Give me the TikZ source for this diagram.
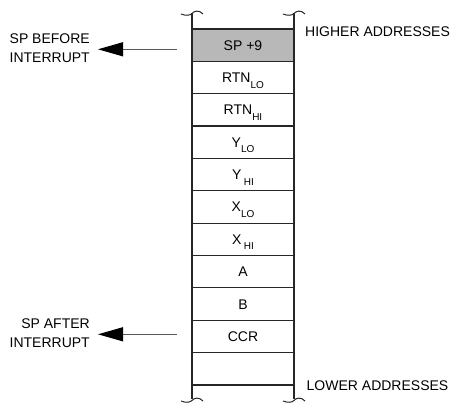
\documentclass[tikz,border=0pt]{standalone}
\usepackage{fontspec}
\setmainfont{Liberation Sans}
\usetikzlibrary{arrows.meta}
\newcommand\lsub[1]{\raisebox{-5.5pt}{\fontsize{10}{10}\selectfont #1}}
\tikzset{
  boxline/.style={draw=black!85, line width=1.2pt},
  cell/.style={boxline, minimum width=102pt, minimum height=32.36pt, inner sep=0pt,
     text height=10pt, text depth=0pt, font=\fontsize{14}{16}\selectfont},
  grayfill/.style={fill=black!28},
  lbl/.style={inner sep=0pt, font=\fontsize{14}{18.7}\selectfont},
  arr/.style={draw=black!65, line width=1.2pt, -{Triangle[length=25pt,width=14pt,color=black]}},
  tilde/.pic={\draw[boxline, line width=1pt] (-11,1) .. controls (-6,3) and (-2,2.5) .. (0,0.5) .. controls (2,-2) and (7,-3.5) .. (11,1);}
}
\begin{document}
\begin{tikzpicture}[x=1pt,y=-1pt]
\useasboundingbox (0,0) rectangle (453,404);
% cells
\node[cell,grayfill] (c0) at (243,{29+0.5*32.36}) {SP +9};
\node[cell] (c1) at (243,{29+1.5*32.36}) {RTN\lsub{LO}};
\node[cell] (c2) at (243,{29+2.5*32.36}) {RTN\lsub{HI}};
\node[cell] (c3) at (243,{29+3.5*32.36}) {Y\lsub{LO}};
\node[cell] (c4) at (243,{29+4.5*32.36}) {Y\,\lsub{HI}};
\node[cell] (c5) at (243,{29+5.5*32.36}) {X\lsub{LO}};
\node[cell] (c6) at (243,{29+6.5*32.36}) {X\,\lsub{HI}};
\node[cell] (c7) at (243,{29+7.5*32.36}) {A};
\node[cell] (c8) at (243,{29+8.5*32.36}) {B};
\node[cell] (c9) at (243,{29+9.5*32.36}) {CCR};
\node[cell] (c10) at (243,{29+10.5*32.36}) {};
% side rails
\coordinate (lt) at (192,13.5);
\coordinate (lb) at (192,398.5);
\coordinate (rt) at (294,13.5);
\coordinate (rb) at (294,398.5);
\draw[boxline] (lt) -- (lb);
\draw[boxline] (rt) -- (rb);
\pic at (192,13) {tilde};
\pic at (294,13) {tilde};
\pic at (192,400) {tilde};
\pic at (294,400) {tilde};
% right labels
\node[lbl,anchor=west] (hi) at (305,31.7) {HIGHER ADDRESSES};
\node[lbl,anchor=west] (lo) at (306.5,385.5) {LOWER ADDRESSES};
% left labels
\node[lbl,align=right,anchor=east] (before) at (90,48.5) {SP BEFORE\\INTERRUPT};
\node[lbl,align=right,anchor=east] (after) at (90,333.5) {SP AFTER\\INTERRUPT};
\coordinate (bs) at (177,49.3);
\coordinate (as) at (177,334.3);
\draw[arr, shorten >=8pt] (bs) -- (bs -| before.east);
\draw[arr, shorten >=8pt] (as) -- (as -| after.east);
\end{tikzpicture}
\end{document}
